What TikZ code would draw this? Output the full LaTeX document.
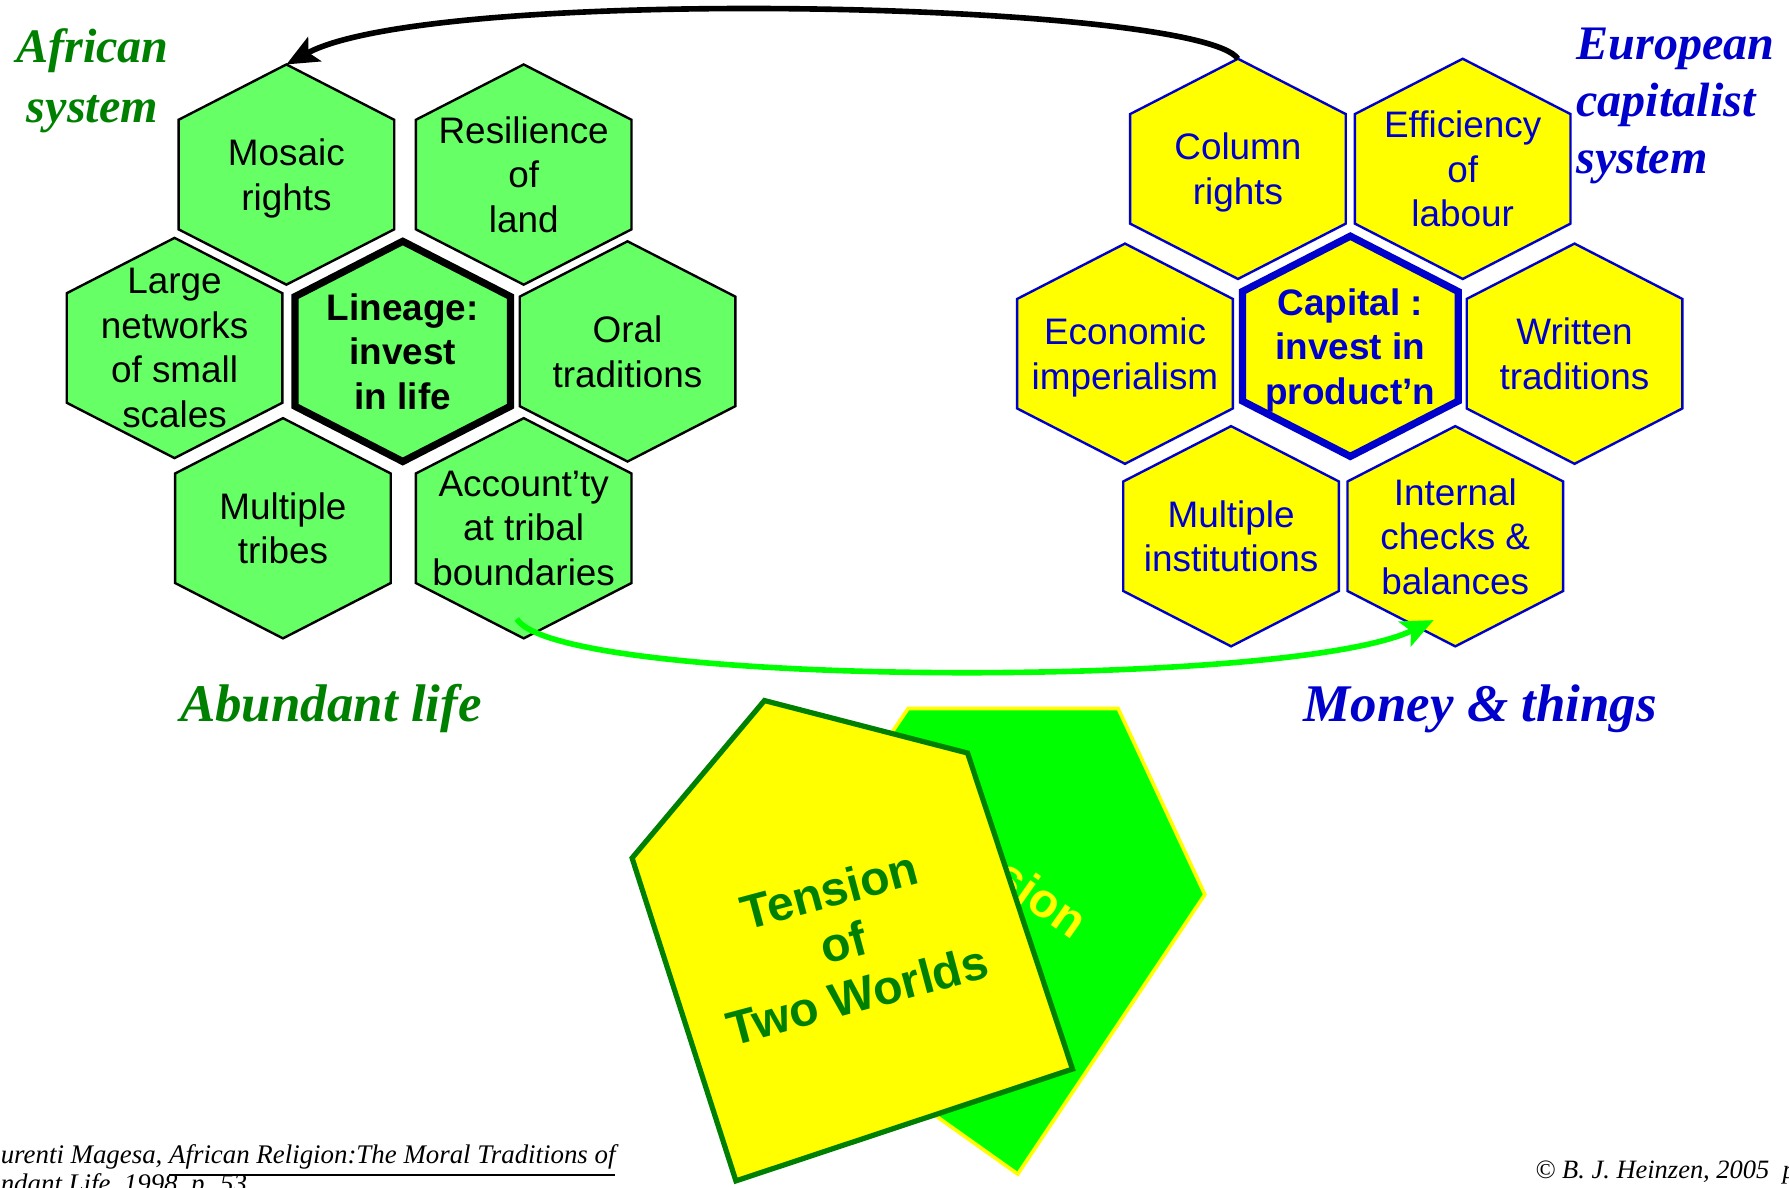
\documentclass[tikz,border=0pt]{standalone}
\usepackage{fontspec}
\setmainfont{Liberation Serif}
\setsansfont{Liberation Sans}
\usepackage{tikz}
\usetikzlibrary{positioning,calc,arrows.meta}

\definecolor{hexgreen}{HTML}{66FF66}
\definecolor{hexyellow}{HTML}{FFFF00}
\definecolor{darkblue}{HTML}{0000CC}
\definecolor{darkgreen}{HTML}{008000}
\definecolor{brightgreen}{HTML}{00FF00}

\begin{document}
\begin{tikzpicture}[
	hexcell/.pic={
		\draw[pic actions] (0,0.965) -- (0.945,0.48) -- (0.945,-0.48) -- (0,-0.965)
		-- (-0.945,-0.48) -- (-0.945,0.48) -- cycle;
		\coordinate (-top) at (0,0.965);
		\coordinate (-bot) at (0,-0.965);
		\coordinate (-c) at (0,0);
	},
	african/.style={draw=black, fill=hexgreen, line width=0.6pt},
	african core/.style={draw=black, fill=hexgreen, line width=1.8pt},
	european/.style={draw=darkblue, fill=hexyellow, line width=0.6pt},
	european core/.style={draw=darkblue, fill=hexyellow, line width=1.8pt},
	cell text/.style={font=\sffamily\fontsize{9.2}{11.1}\selectfont, align=center, inner sep=0pt, text depth=0pt},
	core text/.style={font=\sffamily\bfseries\fontsize{9.2}{11.1}\selectfont, align=center, inner sep=0pt, text depth=0pt},
	system title/.style={font=\bfseries\itshape\fontsize{12}{15}\selectfont, inner sep=0pt},
	life title/.style={font=\bfseries\itshape\fontsize{13.2}{15}\selectfont, inner sep=0pt},
	tension text/.style={font=\sffamily\bfseries\fontsize{12}{13.5}\selectfont, align=center, inner sep=0pt},
	source text/.style={font=\itshape\fontsize{6.7}{7.1}\selectfont, inner sep=0pt, anchor=base west},
	link/.style={line width=1.4pt, -{Stealth[length=0.28cm, width=0.24cm, inset=0.06cm]}},
	every node/.style={color=black}
	]
	\useasboundingbox (0,0) rectangle (15.68,10.41);
	% African system
	\pic[african] (mosaic) at (2.51,8.88) {hexcell};
	\pic[african] (resil) at (4.59,8.88) {hexcell};
	\pic[african] (networks) at (1.53,7.36) {hexcell};
	\pic[african core] (lineage) at (3.53,7.33) {hexcell};
	\pic[african] (oral) at (5.50,7.33) {hexcell};
	\pic[african] (tribes) at (2.48,5.78) {hexcell};
	\pic[african] (acct) at (4.59,5.78) {hexcell};
	\node[cell text] (mosaic text) at (mosaic-c) {Mosaic\\rights};
	\node[cell text] (resil text) at (resil-c) {Resilience\\of\\land};
	\node[cell text] (networks text) at (networks-c) {Large\\networks\\of small\\scales};
	\node[core text] (lineage text) at (lineage-c) {Lineage:\\invest\\in life};
	\node[cell text] (oral text) at (oral-c) {Oral\\traditions};
	\node[cell text] (tribes text) at (tribes-c) {Multiple\\tribes};
	\node[cell text] (acct text) at (acct-c) {Account’ty\\at tribal\\boundaries};
	% European system
	\pic[european] (column) at (10.85,8.93) {hexcell};
	\pic[european] (effic) at (12.82,8.93) {hexcell};
	\pic[european] (econ) at (9.86,7.31) {hexcell};
	\pic[european core] (capital) at (11.835,7.375) {hexcell};
	\pic[european] (written) at (13.80,7.31) {hexcell};
	\pic[european] (multinst) at (10.79,5.71) {hexcell};
	\pic[european] (checks) at (12.755,5.71) {hexcell};
	\node[cell text, text=darkblue] (column text) at (column-c) {Column\\rights};
	\node[cell text, text=darkblue] (effic text) at (effic-c) {Efficiency\\of\\labour};
	\node[cell text, text=darkblue] (econ text) at (econ-c) {Economic\\imperialism};
	\node[core text, text=darkblue] (capital text) at (capital-c) {Capital :\\invest in\\product’n};
	\node[cell text, text=darkblue] (written text) at (written-c) {Written\\traditions};
	\node[cell text, text=darkblue] (multinst text) at (multinst-c) {Multiple\\institutions};
	\node[cell text, text=darkblue] (checks text) at (checks-c) {Internal\\checks \&\\balances};
	% titles
	\node[system title, text=darkgreen, align=center] (african title) at (0.81,9.70) {African\\system};
	\node[system title, text=darkblue, align=left, anchor=west, font=\bfseries\itshape\fontsize{12}{14.2}\selectfont] (european title) at (13.81,9.48) {European\\capitalist\\system};
	\node[life title, text=darkgreen] (abundant) at (2.90,4.20) {Abundant life};
	\node[life title, text=darkblue] (money) at (12.975,4.20) {Money \& things};
	% links
	\coordinate (acct start) at ($(acct-bot)+(-0.06,0.17)$);
	\coordinate (checks end) at ($(checks-bot)+(-0.19,0.23)$);
	\draw[link, black] (column-top) .. controls +(-0.35,0.5) and +(1.29,0.7) .. (mosaic-top);
	\draw[link, brightgreen] (acct start) .. controls +(0.37,-0.6) and +(-1.26,-0.61) .. (checks end);
	% Tension of two worlds
	\draw[draw=hexyellow, fill=brightgreen, line width=0.9pt] (7.96,4.20) -- (9.80,4.20) -- (10.56,2.57) -- (8.92,0.12) -- (6.40,1.91) -- cycle;
	\node[tension text, text=hexyellow, rotate=-35] (back tension) at (9.13,2.54) {sion};
	\draw[draw=darkgreen, fill=hexyellow, line width=1.3pt] (6.70,4.27) -- (8.48,3.81) -- (9.40,1.04) -- (6.45,0.06) -- (5.54,2.89) -- cycle;
	\node[tension text, text=darkgreen, rotate=15] (front tension) at (7.39,2.15) {Tension\\of\\Two Worlds};
	% source
	\node[source text] (source a) at (0,0.21) {urenti Magesa, \underline{African Religion:The Moral Traditions of}};
	\node[source text] (source b) at (0,-0.04) {\underline{ndant Life}, 1998, p. 53};
	\node[source text, font=\itshape\fontsize{6.6}{7}\selectfont] (copyright) at (13.45,0.08) {© B. J. Heinzen, 2005~~p};
\end{tikzpicture}
\end{document}
